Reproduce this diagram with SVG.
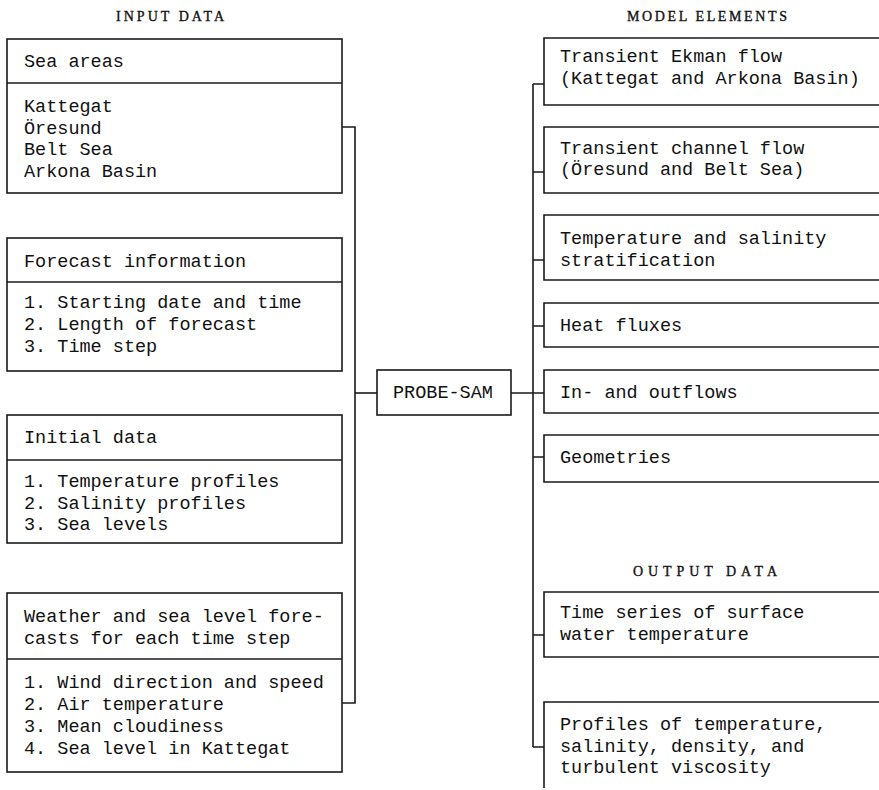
<svg xmlns="http://www.w3.org/2000/svg" width="879" height="790" viewBox="0 0 879 790">
<style>
.ln{stroke:#1a1a1a;stroke-width:1.6;fill:none}
.t{font-family:"Liberation Mono","DejaVu Sans Mono",monospace;font-size:18.5px;fill:#111}
.h{font-family:"Liberation Serif","DejaVu Serif",serif;font-size:14px;fill:#111;stroke:#111;stroke-width:0.35}
</style>
<rect width="879" height="790" fill="#fff"/>
<text class="h" x="116" y="21" textLength="108" lengthAdjust="spacing">INPUT DATA</text>
<text class="h" x="627" y="21" textLength="160" lengthAdjust="spacing">MODEL ELEMENTS</text>
<text class="h" x="633" y="576" textLength="144" lengthAdjust="spacing">OUTPUT DATA</text>

<g id="sea-areas">
<rect class="ln" x="7" y="39" width="335" height="154"/>
<line class="ln" x1="7" y1="83" x2="342" y2="83"/>
<text class="t" x="24" y="67">Sea areas</text>
<text class="t" x="24" y="112">Kattegat</text>
<text class="t" x="24" y="133.5">Öresund</text>
<text class="t" x="24" y="155">Belt Sea</text>
<text class="t" x="24" y="176.5">Arkona Basin</text>
</g>
<g id="forecast-info">
<rect class="ln" x="7" y="238" width="335" height="133"/>
<line class="ln" x1="7" y1="282" x2="342" y2="282"/>
<text class="t" x="24" y="267">Forecast information</text>
<text class="t" x="24" y="308">1. Starting date and time</text>
<text class="t" x="24" y="330">2. Length of forecast</text>
<text class="t" x="24" y="352">3. Time step</text>
</g>
<g id="initial-data">
<rect class="ln" x="7" y="415" width="335" height="128"/>
<line class="ln" x1="7" y1="460" x2="342" y2="460"/>
<text class="t" x="24" y="443">Initial data</text>
<text class="t" x="24" y="487">1. Temperature profiles</text>
<text class="t" x="24" y="508.5">2. Salinity profiles</text>
<text class="t" x="24" y="530">3. Sea levels</text>
</g>
<g id="weather">
<rect class="ln" x="7" y="593" width="335" height="179"/>
<line class="ln" x1="7" y1="659" x2="342" y2="659"/>
<text class="t" x="24" y="622">Weather and sea level fore-</text>
<text class="t" x="24" y="643.5">casts for each time step</text>
<text class="t" x="24" y="688">1. Wind direction and speed</text>
<text class="t" x="24" y="710">2. Air temperature</text>
<text class="t" x="24" y="732">3. Mean cloudiness</text>
<text class="t" x="24" y="753.5">4. Sea level in Kattegat</text>
</g>

<g id="probe-sam">
<rect class="ln" x="377" y="370" width="134" height="45"/>
<text class="t" x="393" y="398">PROBE-SAM</text>
</g>

<g id="ekman">
<path class="ln" d="M879 38H544V105H879"/>
<text class="t" x="560" y="62">Transient Ekman flow</text>
<text class="t" x="560" y="83.5">(Kattegat and Arkona Basin)</text>
</g>
<g id="channel">
<path class="ln" d="M879 127H544V193H879"/>
<text class="t" x="560" y="153.5">Transient channel flow</text>
<text class="t" x="560" y="175">(Öresund and Belt Sea)</text>
</g>
<g id="stratification">
<path class="ln" d="M879 215H544V280H879"/>
<text class="t" x="560" y="244">Temperature and salinity</text>
<text class="t" x="560" y="265.5">stratification</text>
</g>
<g id="heat-fluxes">
<path class="ln" d="M879 303H544V347H879"/>
<text class="t" x="560" y="331">Heat fluxes</text>
</g>
<g id="inoutflows">
<path class="ln" d="M879 370H544V413H879"/>
<text class="t" x="560" y="398">In- and outflows</text>
</g>
<g id="geometries">
<path class="ln" d="M879 435H544V482H879"/>
<text class="t" x="560" y="463">Geometries</text>
</g>
<g id="time-series">
<path class="ln" d="M879 592H544V657H879"/>
<text class="t" x="560" y="617.5">Time series of surface</text>
<text class="t" x="560" y="639.5">water temperature</text>
</g>
<g id="profiles">
<path class="ln" d="M879 702H544V788"/>
<text class="t" x="560" y="729.5">Profiles of temperature,</text>
<text class="t" x="560" y="751.5">salinity, density, and</text>
<text class="t" x="560" y="773">turbulent viscosity</text>
</g>

<g id="connectors">
<path class="ln" d="M342 127H355V703H342"/>
<path class="ln" d="M355 393H377"/>
<path class="ln" d="M511 393H544"/>
<path class="ln" d="M533 84V747"/>
<path class="ln" d="M533 84H544M533 172H544M533 260H544M533 326H544M533 457H544M533 635H544M533 747H544"/>
</g>
</svg>
